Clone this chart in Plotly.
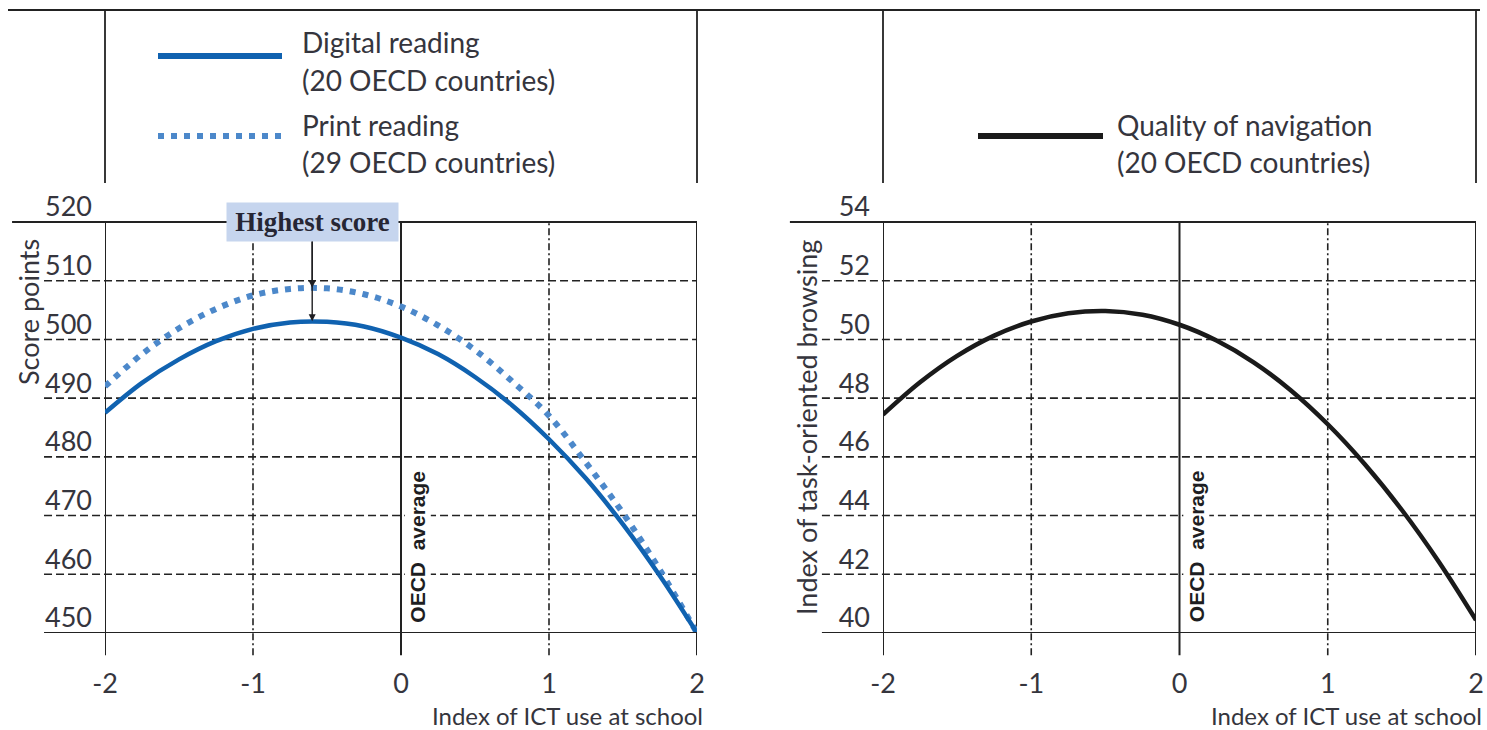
import plotly.graph_objects as go

W, H = 1487, 730

# Index of ICT use at school (x) and the fitted scores read at each step
ict_index = [-2.0, -1.75, -1.5, -1.25, -1.0, -0.75, -0.5, -0.25, 0.0,
             0.25, 0.5, 0.75, 1.0, 1.25, 1.5, 1.75, 2.0]
digital_reading = [487.5, 492.6, 496.6, 499.7, 501.8, 502.9, 503.0, 502.2, 500.3,
                   497.5, 493.6, 488.8, 483.0, 476.3, 468.5, 459.7, 450.0]
print_reading = [492.0, 497.5, 501.9, 505.2, 507.5, 508.6, 508.7, 507.7, 505.6,
                 502.4, 498.2, 492.9, 487.0, 479.0, 470.4, 460.7, 450.0]
navigation_quality = [47.44, 48.54, 49.44, 50.13, 50.61, 50.89, 50.97, 50.84, 50.50,
                      49.96, 49.22, 48.27, 47.11, 45.75, 44.19, 42.42, 40.44]

score_ticks = [450, 460, 470, 480, 490, 500, 510, 520]
browsing_ticks = [40, 42, 44, 46, 48, 50, 52, 54]
ict_ticks = [-2, -1, 0, 1, 2]
ict_ticktext = ["-2", "-1", "0", "1", "2"]

highest_x = -0.6
digital_peak = 503.1
print_peak = 508.8

DIGITAL_BLUE = "#1062b0"
PRINT_BLUE = "#4c88ca"
INK = "#222222"
TEXT = "#35353d"
FONT = "Lato, Roboto, sans-serif"


def px(x):
    return x / W


def py(y):
    return 1 - y / H


fig = go.Figure()

fig.add_trace(go.Scatter(x=ict_index, y=print_reading, mode="lines",
                         line=dict(color=PRINT_BLUE, width=6, dash="6px,7px", shape="spline"),
                         xaxis="x", yaxis="y", hoverinfo="skip", showlegend=False))
fig.add_trace(go.Scatter(x=ict_index, y=digital_reading, mode="lines",
                         line=dict(color=DIGITAL_BLUE, width=4.5, shape="spline"),
                         xaxis="x", yaxis="y", hoverinfo="skip", showlegend=False))
fig.add_trace(go.Scatter(x=ict_index, y=navigation_quality, mode="lines",
                         line=dict(color="#1a1a1a", width=4.5, shape="spline"),
                         xaxis="x2", yaxis="y2", hoverinfo="skip", showlegend=False))

shapes = []
annotations = []

# Header frame
shapes.append(dict(type="line", xref="paper", yref="paper", x0=px(8), x1=px(1480),
                   y0=py(10), y1=py(10), line=dict(color=INK, width=2)))
for hx in (105, 697, 883, 1476):
    shapes.append(dict(type="line", xref="paper", yref="paper", x0=px(hx), x1=px(hx),
                       y0=py(10), y1=py(183), line=dict(color=INK, width=1.8)))

panels = [("x", "y", score_ticks), ("x2", "y2", browsing_ticks)]
for xa, ya, yticks in panels:
    xd, yd = xa + " domain", ya + " domain"
    # top border reaching left past the labels
    shapes.append(dict(type="line", xref=xd, yref=yd, x0=-0.157, x1=1, y0=1, y1=1,
                       line=dict(color=INK, width=2)))
    # horizontal gridlines
    for v in yticks[1:-1]:
        shapes.append(dict(type="line", xref=xd, yref=ya, x0=-0.103, x1=1, y0=v, y1=v,
                           line=dict(color=INK, width=1.6, dash="8px,4px"), layer="below"))
    # baseline
    shapes.append(dict(type="line", xref=xd, yref=ya, x0=-0.103, x1=1,
                       y0=yticks[0], y1=yticks[0], line=dict(color=INK, width=2)))
    # vertical lines with their tick extensions
    for t in ict_ticks:
        solid = t in (-2, 0, 2)
        shapes.append(dict(type="line", xref=xa, yref=yd, x0=t, x1=t, y0=-0.054, y1=1,
                           line=dict(color=INK, width=2 if solid else 1.6,
                                     dash="solid" if solid else "7px,3px,2px,3px"),
                           layer="below"))
    # OECD average label
    annotations.append(dict(xref=xa, yref=yd, x=0, y=0.21, xshift=17, text="OECD\u00a0 average",
                            textangle=-90, showarrow=False, bgcolor="white",
                            xanchor="center", yanchor="middle",
                            font=dict(family="Liberation Sans, Arial, sans-serif", size=21,
                                      color="#1e1e22", weight="bold")))
    # x-axis title
    annotations.append(dict(xref=xd, yref="paper", x=1.013, y=py(715), xanchor="right",
                            yanchor="middle", text="Index of ICT use at school", showarrow=False,
                            font=dict(family=FONT, size=24, color=TEXT)))

# y-axis titles
annotations.append(dict(xref="paper", yref="paper", x=px(28), y=py(312), text="Score points",
                        textangle=-90, showarrow=False, xanchor="center", yanchor="middle",
                        font=dict(family=FONT, size=27, color=TEXT)))
annotations.append(dict(xref="paper", yref="paper", x=px(806), y=py(428),
                        text="Index of task-oriented browsing", textangle=-90, showarrow=False,
                        xanchor="center", yanchor="middle",
                        font=dict(family=FONT, size=27, color=TEXT)))

# Highest score call-out with arrows to both peaks
annotations.append(dict(xref="x", yref="y", x=highest_x, y=print_peak, ax=0, ay=-64,
                        text="", showarrow=True, arrowhead=2, arrowsize=1, arrowwidth=1.4,
                        arrowcolor="#1e1e22", standoff=0))
annotations.append(dict(xref="x", yref="y", x=highest_x, y=digital_peak, ax=0, ay=-99,
                        text="<b>Highest score</b>", showarrow=True, arrowhead=2, arrowsize=1,
                        arrowwidth=1.4, arrowcolor="#1e1e22", standoff=0,
                        bgcolor="#c6d5ee", width=171, height=38, borderpad=0,
                        font=dict(family="Liberation Serif, Times New Roman, serif", size=27,
                                  color="#262634")))

# Legend entries
shapes.append(dict(type="line", xref="paper", yref="paper", x0=px(158), x1=px(282),
                   y0=py(56), y1=py(56), line=dict(color=DIGITAL_BLUE, width=6)))
shapes.append(dict(type="line", xref="paper", yref="paper", x0=px(158), x1=px(282),
                   y0=py(136), y1=py(136), line=dict(color=PRINT_BLUE, width=6, dash="6px,7px")))
shapes.append(dict(type="line", xref="paper", yref="paper", x0=px(978), x1=px(1103),
                   y0=py(136), y1=py(136), line=dict(color="#1a1a1a", width=6)))

legend_text = [
    (300, 42, "Digital reading"), (300, 80, "(20 OECD countries)"),
    (300, 125, "Print reading"), (300, 162, "(29 OECD countries)"),
    (1115, 125, "Quality of navigation"), (1115, 162, "(20 OECD countries)"),
]
for lx, ly, txt in legend_text:
    annotations.append(dict(xref="paper", yref="paper", x=px(lx), y=py(ly), xanchor="left",
                            yanchor="middle", text=txt, showarrow=False,
                            font=dict(family=FONT, size=28, color=TEXT)))

axis_common = dict(showgrid=False, zeroline=False, showline=False, ticks="",
                   automargin=False, fixedrange=True,
                   tickfont=dict(family=FONT, size=27, color=TEXT))

ydom = [py(633), py(222)]
fig.update_layout(
    width=W, height=H,
    margin=dict(l=0, r=0, t=0, b=0),
    paper_bgcolor="white", plot_bgcolor="white",
    showlegend=False,
    xaxis=dict(domain=[px(105), px(697)], range=[-2, 2], tickvals=ict_ticks,
               ticktext=ict_ticktext, ticklabelstandoff=32, anchor="y", **axis_common),
    yaxis=dict(domain=ydom, range=[450, 520], tickvals=score_ticks,
               ticklabelstandoff=12, ticklabelshift=-15, anchor="x", **axis_common),
    xaxis2=dict(domain=[px(883), px(1476)], range=[-2, 2], tickvals=ict_ticks,
                ticktext=ict_ticktext, ticklabelstandoff=32, anchor="y2", **axis_common),
    yaxis2=dict(domain=ydom, range=[40, 54], tickvals=browsing_ticks,
                ticklabelstandoff=12, ticklabelshift=-15, anchor="x2", **axis_common),
    shapes=shapes,
    annotations=annotations,
)

fig.write_html("out.html")
